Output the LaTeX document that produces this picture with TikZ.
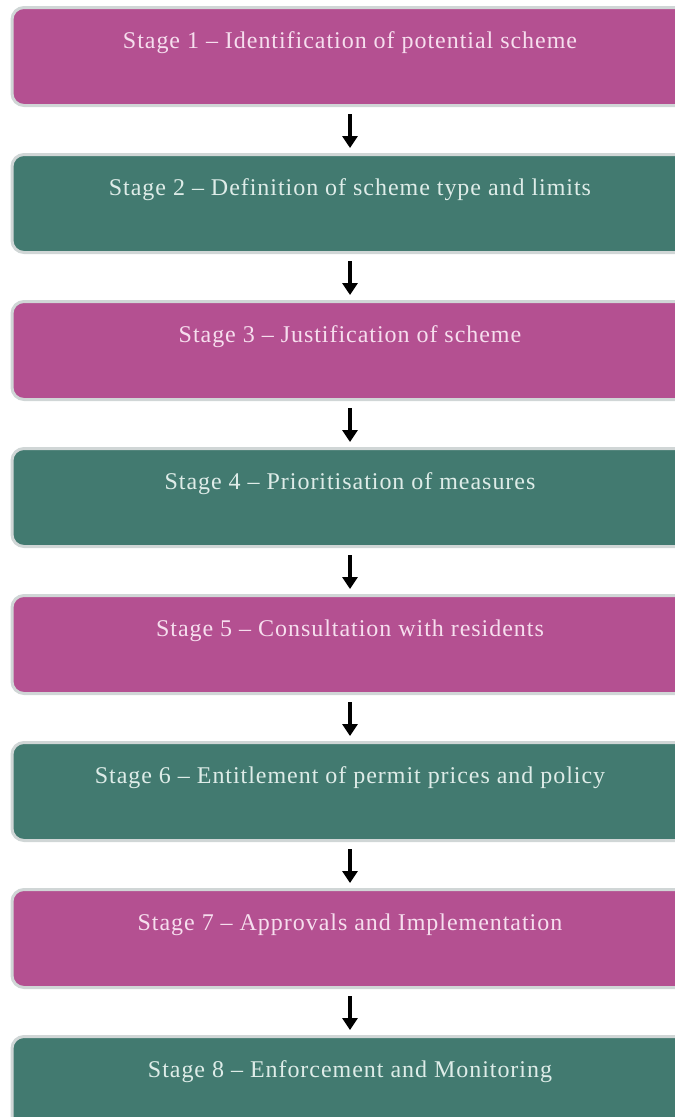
\documentclass[tikz,border=0pt]{standalone}
\usepackage{fontspec}
\setmainfont{Liberation Serif}
\usetikzlibrary{positioning,arrows.meta}

\definecolor{stagepink}{RGB}{180,80,145}
\definecolor{stageteal}{RGB}{66,122,112}
\definecolor{pinktext}{RGB}{246,222,238}
\definecolor{tealtext}{RGB}{222,236,232}
\definecolor{glow}{RGB}{208,214,214}

\tikzset{
    stagebox/.style={draw=glow, line width=3pt, rounded corners=12pt,
        minimum width=676pt, inner xsep=0pt, inner ysep=0pt,
        text height=41pt, text depth=57pt,
        font=\fontsize{24}{28}\selectfont\addfontfeature{LetterSpace=4}},
    pinkstage/.style={stagebox, fill=stagepink, text=pinktext},
    tealstage/.style={stagebox, fill=stageteal, text=tealtext},
    flow/.style={-{Triangle[width=15pt,length=12pt]}, line width=3.5pt, black,
        shorten <=7pt, shorten >=5pt}
}

\begin{document}
\begin{tikzpicture}[x=1pt, y=1pt
        , node distance = 46pt
        ]
        \path[use as bounding box, clip] (0,0) rectangle (675,-1117);

        \node (s1) [pinkstage, anchor=north] at (350,-6) {Stage 1 -- Identification of potential scheme};
        \node (s2) [tealstage, below=of s1] {Stage 2 -- Definition of scheme type and limits};
        \node (s3) [pinkstage, below=of s2] {Stage 3 -- Justification of scheme};
        \node (s4) [tealstage, below=of s3] {Stage 4 -- Prioritisation of measures};
        \node (s5) [pinkstage, below=of s4] {Stage 5 -- Consultation with residents};
        \node (s6) [tealstage, below=of s5] {Stage 6 -- Entitlement of permit prices and policy};
        \node (s7) [pinkstage, below=of s6] {Stage 7 -- Approvals and Implementation};
        \node (s8) [tealstage, below=of s7] {Stage 8 -- Enforcement and Monitoring};

        \foreach \a/\b in {s1/s2,s2/s3,s3/s4,s4/s5,s5/s6,s6/s7,s7/s8}
            \draw[flow] (\a) -- (\b);

    \end{tikzpicture}
\end{document}
